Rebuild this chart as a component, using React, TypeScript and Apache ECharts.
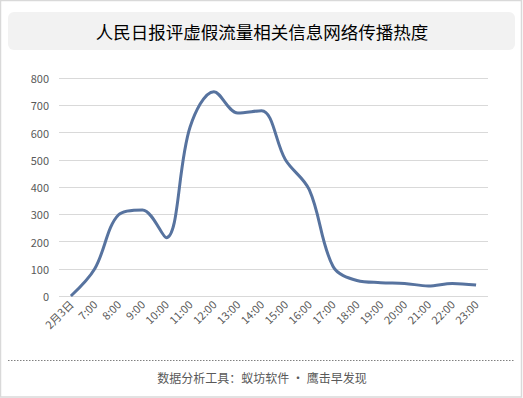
import React, { useEffect, useRef } from "react";
import * as echarts from "echarts";

const TITLE = "人民日报评虚假流量相关信息网络传播热度";
const FOOTER = "数据分析工具：蚁坊软件 · 鹰击早发现";
const categories = ["2月3日", "7:00", "8:00", "9:00", "10:00", "11:00", "12:00", "13:00", "14:00", "15:00", "16:00", "17:00", "18:00", "19:00", "20:00", "21:00", "22:00", "23:00"];
const heat = [0, 100, 298, 316, 214, 620, 750, 672, 680, 500, 390, 108, 57, 49, 46, 37, 46, 40];
const yTicks = { min: 0, max: 800, interval: 100 };

export default function App() {
  const ref = useRef<HTMLDivElement>(null);
  useEffect(() => {
    if (!ref.current) return;
    const chart = echarts.init(ref.current, null, { renderer: "svg" });
    chart.setOption({
      animation: false,
      backgroundColor: "#ffffff",
      grid: { left: 59, right: 35, top: 78, bottom: 102 },
      graphic: [
        { type: "rect", shape: { x: 0.5, y: 0.5, width: 521, height: 396.5 }, style: { fill: "none", stroke: "#d9d9d9", lineWidth: 1.5 } },
        { type: "rect", shape: { x: 8, y: 12, width: 507, height: 38, r: 6 }, style: { fill: "#f2f2f2" } },
        { type: "text", x: 262, y: 31, style: { text: TITLE, font: '17.5px "Noto Sans CJK SC"', fill: "#000000", textAlign: "center", textVerticalAlign: "middle" } },
        { type: "line", shape: { x1: 8, y1: 360.5, x2: 515, y2: 360.5 }, style: { stroke: "#808080", lineWidth: 1, lineDash: [1.5, 1.5] } },
        { type: "text", x: 262, y: 377, style: { text: FOOTER, font: '12px "Noto Sans CJK SC"', fill: "#595959", textAlign: "center", textVerticalAlign: "middle" } },
      ],
      xAxis: {
        type: "category",
        data: categories,
        boundaryGap: true,
        axisLine: { show: false },
        axisTick: { show: false },
        axisLabel: { rotate: 45, color: "#595959", fontSize: 11, fontFamily: "Noto Sans CJK SC", margin: 6, interval: 0 },
      },
      yAxis: {
        type: "value",
        min: yTicks.min,
        max: yTicks.max,
        interval: yTicks.interval,
        axisLine: { show: false },
        axisTick: { show: false },
        axisLabel: { color: "#595959", fontSize: 11, fontFamily: "Noto Sans CJK SC", margin: 10 },
        splitLine: { lineStyle: { color: "#d9d9d9", width: 1 } },
      },
      series: [
        {
          type: "line",
          data: heat,
          smooth: 0.35,
          showSymbol: false,
          lineStyle: { color: "#57739f", width: 3 },
        },
      ],
    });
    return () => chart.dispose();
  }, []);
  return <div ref={ref} style={{ position: "fixed", left: 0, top: 0, width: 523, height: 398 }} />;
}
